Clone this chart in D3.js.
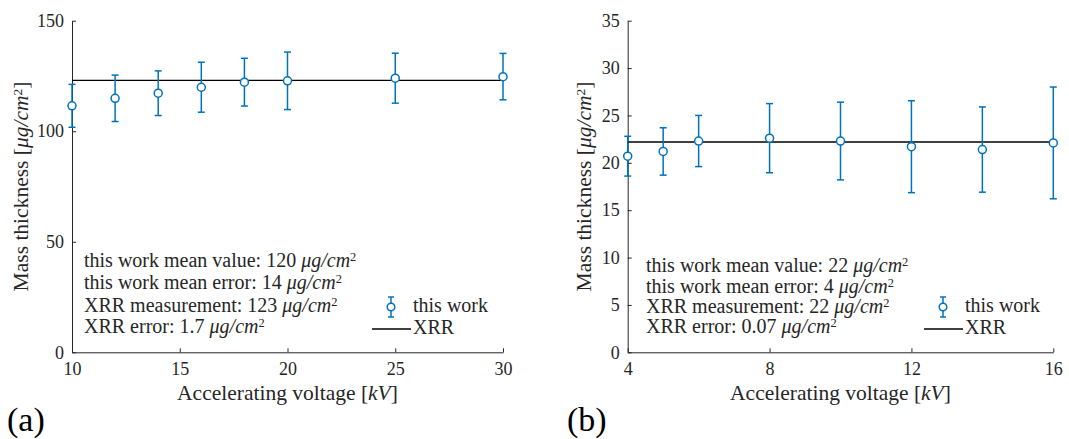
<!DOCTYPE html>
<html>
<head>
<meta charset="utf-8">
<script src="https://cdn.jsdelivr.net/npm/d3@7"></script>
<style>
  body { margin: 0; background: #fff; }
</style>
</head>
<body>
<div id="chart"></div>
<script>
// panel (a)
const voltA = [10, 12, 14, 16, 18, 20, 25, 30];
const massA = [111.5, 114.9, 117.2, 119.9, 122.2, 122.8, 124.0, 124.7];
const errA = [9.7, 10.5, 10.1, 11.3, 10.8, 13.0, 11.3, 10.5];
const xrrA = 123;
const xTicksA = [10, 15, 20, 25, 30];
const yTicksA = [0, 50, 100, 150];
const notesA = ["this work mean value: 120 ", "this work mean error: 14 ", "XRR measurement: 123 ", "XRR error: 1.7 "];

// panel (b)
const voltB = [4, 5, 6, 8, 10, 12, 14, 16];
const massB = [20.7, 21.2, 22.3, 22.6, 22.3, 21.7, 21.4, 22.1];
const errB = [2.1, 2.5, 2.7, 3.65, 4.1, 4.85, 4.5, 5.9];
const xrrB = 22.2;
const xTicksB = [4, 8, 12, 16];
const yTicksB = [0, 5, 10, 15, 20, 25, 30, 35];
const notesB = ["this work mean value: 22 ", "this work mean error: 4 ", "XRR measurement: 22 ", "XRR error: 0.07 "];

const width = 1069, height = 439;
const blue = "#0072BD", axisCol = "#262626";
const fontFam = '"Liberation Serif"';

const svg = d3.select("#chart").append("svg")
    .attr("width", width)
    .attr("height", height);

// every text gets the serif face explicitly
function txt(sel) {
    return sel.append("text").style("font-family", fontFam).attr("fill", axisCol);
}

// writes "... μg/cm^2" into a text element
function unitText(t, pre, post) {
    t.append("tspan").text(pre);
    t.append("tspan").style("font-style", "italic").text("μg/cm");
    t.append("tspan").style("font-size", "0.62em").attr("dy", "-0.46em").text("2");
    if (post) t.append("tspan").attr("dy", "0.29em").text(post);
}

function drawPanel(p) {
    const x = d3.scaleLinear().domain(p.xDomain).range(p.xRange);
    const y = d3.scaleLinear().domain(p.yDomain).range([352.3, 20.7]);

    const g = svg.append("g");

    // axes, MATLAB style ticks pointing in
    g.append("g")
        .attr("transform", `translate(0,${y(0)})`)
        .call(d3.axisBottom(x).tickValues(p.xTicks).tickSizeInner(-4).tickSizeOuter(0).tickPadding(10))
        .attr("font-family", null)
        .call(a => a.select(".domain").attr("stroke", axisCol))
        .call(a => a.selectAll(".tick line").attr("stroke", axisCol))
        .call(a => a.selectAll("text").style("font-size", "18px").attr("fill", axisCol)
            .style("font-family", fontFam));

    g.append("g")
        .attr("transform", `translate(${x(p.xDomain[0])},0)`)
        .call(d3.axisLeft(y).tickValues(p.yTicks).tickSizeInner(-4).tickSizeOuter(0).tickPadding(8))
        .attr("font-family", null)
        .call(a => a.select(".domain").attr("stroke", axisCol))
        .call(a => a.selectAll(".tick line").attr("stroke", axisCol))
        .call(a => a.selectAll("text").style("font-size", "18px").attr("fill", axisCol)
            .style("font-family", fontFam));

    // XRR reference line
    g.append("line")
        .attr("x1", x(p.xDomain[0])).attr("x2", x(p.xDomain[1]))
        .attr("y1", y(p.xrr)).attr("y2", y(p.xrr))
        .attr("stroke", "#000").attr("stroke-width", 1.4);

    // error bars
    const pts = p.volt.map((v, i) => ({v: v, m: p.mass[i], e: p.err[i]}));
    const eb = g.selectAll(".eb").data(pts).join("g").attr("class", "eb")
        .attr("stroke", blue).attr("stroke-width", 1.5).attr("fill", "none");
    eb.append("line")
        .attr("x1", d => x(d.v)).attr("x2", d => x(d.v))
        .attr("y1", d => y(d.m - d.e)).attr("y2", d => y(d.m + d.e));
    eb.append("line")
        .attr("x1", d => x(d.v) - 3.5).attr("x2", d => x(d.v) + 3.5)
        .attr("y1", d => y(d.m + d.e)).attr("y2", d => y(d.m + d.e));
    eb.append("line")
        .attr("x1", d => x(d.v) - 3.5).attr("x2", d => x(d.v) + 3.5)
        .attr("y1", d => y(d.m - d.e)).attr("y2", d => y(d.m - d.e));
    eb.append("circle")
        .attr("cx", d => x(d.v)).attr("cy", d => y(d.m)).attr("r", 4)
        .attr("fill", "#fff");

    // annotation text
    p.notes.forEach((n, i) => {
        const t = txt(g).attr("x", p.noteX).attr("y", p.noteY[i]).style("font-size", "20px");
        unitText(t, n);
    });

    // legend
    const lx = p.legX;
    const lg = g.append("g").attr("stroke", blue).attr("stroke-width", 1.5).attr("fill", "none");
    lg.append("line").attr("x1", lx).attr("x2", lx).attr("y1", 297).attr("y2", 317);
    lg.append("line").attr("x1", lx - 3).attr("x2", lx + 3).attr("y1", 297).attr("y2", 297);
    lg.append("line").attr("x1", lx - 3).attr("x2", lx + 3).attr("y1", 317).attr("y2", 317);
    lg.append("circle").attr("cx", lx).attr("cy", 307).attr("r", 3.8).attr("fill", "#fff");
    txt(g).attr("x", lx + 22).attr("y", 311.5).style("font-size", "20px").text("this work");
    g.append("line")
        .attr("x1", lx - 19).attr("x2", lx + 20)
        .attr("y1", 329).attr("y2", 329)
        .attr("stroke", "#000").attr("stroke-width", 1.4);
    txt(g).attr("x", lx + 22).attr("y", 333.5).style("font-size", "20px").text("XRR");

    // axis labels
    const xl = txt(g)
        .attr("x", (p.xRange[0] + p.xRange[1]) / 2).attr("y", 400)
        .attr("text-anchor", "middle").style("font-size", "21.5px");
    xl.append("tspan").text("Accelerating voltage [");
    xl.append("tspan").style("font-style", "italic").text("kV");
    xl.append("tspan").text("]");

    const yl = txt(g)
        .attr("transform", `translate(${p.yLabX},186.5) rotate(-90)`)
        .attr("text-anchor", "middle").style("font-size", "21.5px");
    unitText(yl, "Mass thickness [", "]");

    txt(g).attr("x", p.tagX).attr("y", 431)
        .style("font-size", "34px").attr("fill", "#000")
        .text(p.tag);
}

drawPanel({
    volt: voltA, mass: massA, err: errA, xrr: xrrA,
    xDomain: [10, 30], xRange: [72, 503], yDomain: [0, 150],
    xTicks: xTicksA, yTicks: yTicksA,
    notes: notesA, noteX: 84, noteY: [267, 289, 311.5, 333],
    legX: 391, yLabX: 28, tag: "(a)", tagX: 7
});

drawPanel({
    volt: voltB, mass: massB, err: errB, xrr: xrrB,
    xDomain: [4, 16], xRange: [627.7, 1053.3], yDomain: [0, 35],
    xTicks: xTicksB, yTicks: yTicksB,
    notes: notesB, noteX: 646, noteY: [272, 292.5, 312.5, 333],
    legX: 943, yLabX: 591, tag: "(b)", tagX: 567
});
</script>
</body>
</html>
